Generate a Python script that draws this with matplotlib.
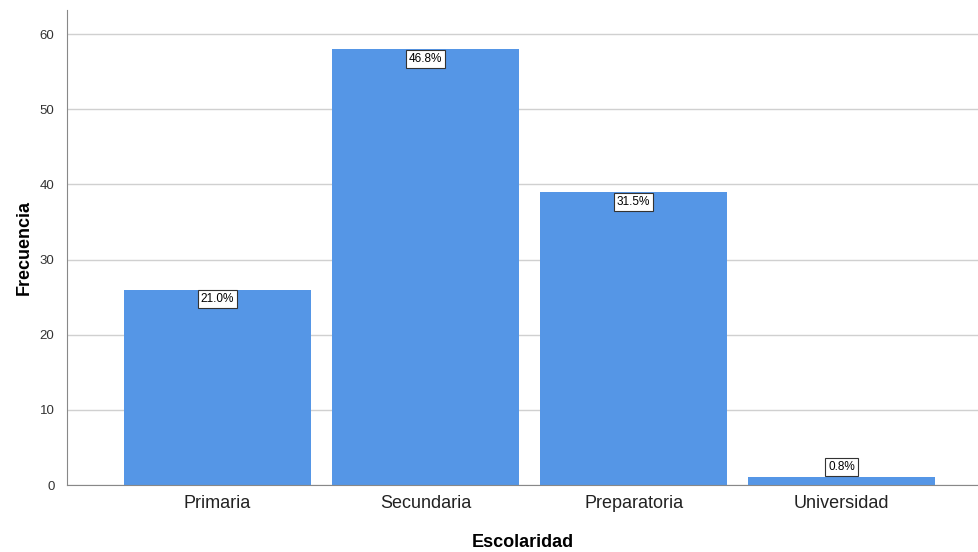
import matplotlib
matplotlib.use("Agg")
import matplotlib.pyplot as plt

plt.rcParams["font.family"] = ["Liberation Sans", "DejaVu Sans"]

categories = ["Primaria", "Secundaria", "Preparatoria", "Universidad"]
counts = [26, 58, 39, 1]
pct_labels = ["21.0%", "46.8%", "31.5%", "0.8%"]

fig = plt.figure(figsize=(9.79, 5.52), dpi=100)
ax = fig.add_axes([67/979, 1-485/552, 1-67/979, 475/552])

x = list(range(len(categories)))
bars = ax.bar(x, counts, width=0.9, color="#5596E6", zorder=2)
ax.set_xlim(-0.724, 3.66)
ax.set_ylim(0, 63.2)
ax.set_yticks([0, 10, 20, 30, 40, 50, 60])
ax.yaxis.grid(True, color="#D0D0D0", linewidth=1, zorder=0)
ax.set_axisbelow(True)
for s in ["top", "right"]:
    ax.spines[s].set_visible(False)
ax.spines["left"].set_color("#888888")
ax.spines["bottom"].set_color("#888888")
ax.tick_params(axis="y", length=0, labelsize=9.5, pad=9, labelcolor="#333333")
ax.tick_params(axis="x", length=0, labelsize=13, pad=7, labelcolor="#222222")
ax.set_xticks(x)
ax.set_xticklabels(categories)
ax.set_xlabel("Escolaridad", fontsize=13, fontweight="bold", labelpad=16)
ax.set_ylabel("Frecuencia", fontsize=13, fontweight="bold", labelpad=5)

for xi, c, lab in zip(x, counts, pct_labels):
    if c > 5:
        y, va = c - 0.5, "top"
    else:
        y, va = c + 0.6, "bottom"
    ax.text(xi, y, lab, ha="center", va=va, fontsize=8.5, zorder=3,
            bbox=dict(boxstyle="square,pad=0.25", facecolor="white", edgecolor="#333333", linewidth=0.8))

fig.savefig("out.png", dpi=100)
